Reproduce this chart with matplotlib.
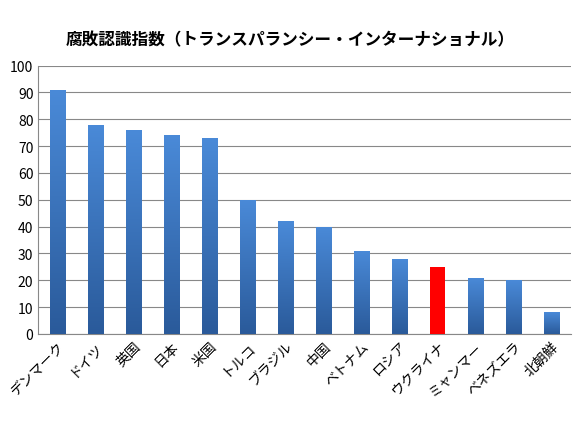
import matplotlib
matplotlib.use("Agg")
import matplotlib.pyplot as plt
import numpy as np

plt.rcParams['font.family'] = ['Noto Sans CJK JP', 'DejaVu Sans']

countries = ["デンマーク", "ドイツ", "英国", "日本", "米国", "トルコ", "ブラジル", "中国",
             "ベトナム", "ロシア", "ウクライナ", "ミャンマー", "ベネズエラ", "北朝鮮"]
scores = [91, 78, 76, 74, 73, 50, 42, 40, 31, 28, 25, 21, 20, 8]
highlight = "ウクライナ"

fig = plt.figure(figsize=(5.8, 4.35), dpi=100)
ax = fig.add_axes([0.066, 0.23, 0.918, 0.617])
x = np.arange(len(countries))
colors = ["#ff0000" if c == highlight else "#3f7fcf" for c in countries]
bars = ax.bar(x, scores, width=0.4, color=colors, zorder=3)

grad = np.linspace(0, 1, 256).reshape(-1, 1)
cmap = matplotlib.colors.LinearSegmentedColormap.from_list("g", ["#2a5a9a", "#4a8ad8"])
for b, c in zip(bars, countries):
    if c == highlight:
        continue
    x0, w, h = b.get_x(), b.get_width(), b.get_height()
    im = ax.imshow(grad, extent=[x0, x0 + w, 0, h], origin="lower", aspect="auto",
                   cmap=cmap, zorder=4)
    im.set_clip_path(b)

ax.set_xlim(-0.5, len(countries) - 0.5)
ax.set_ylim(0, 100)
ax.set_yticks(range(0, 101, 10))
ax.yaxis.grid(True, color="#888888", linewidth=0.8, zorder=0)
ax.set_xticks(x)
ax.set_xticklabels(countries, rotation=45, ha="right", rotation_mode="anchor", fontsize=10)
ax.tick_params(axis="y", labelsize=10, length=0)
ax.tick_params(axis="x", length=0)
for s in ["top", "right"]:
    ax.spines[s].set_visible(False)
ax.spines["left"].set_color("#888888")
ax.spines["bottom"].set_color("#888888")
fig.text(0.5, 0.895, "腐敗認識指数（トランスパランシー・インターナショナル）", ha="center",
         fontsize=12, fontweight="bold")
fig.savefig("out.png", dpi=100)
